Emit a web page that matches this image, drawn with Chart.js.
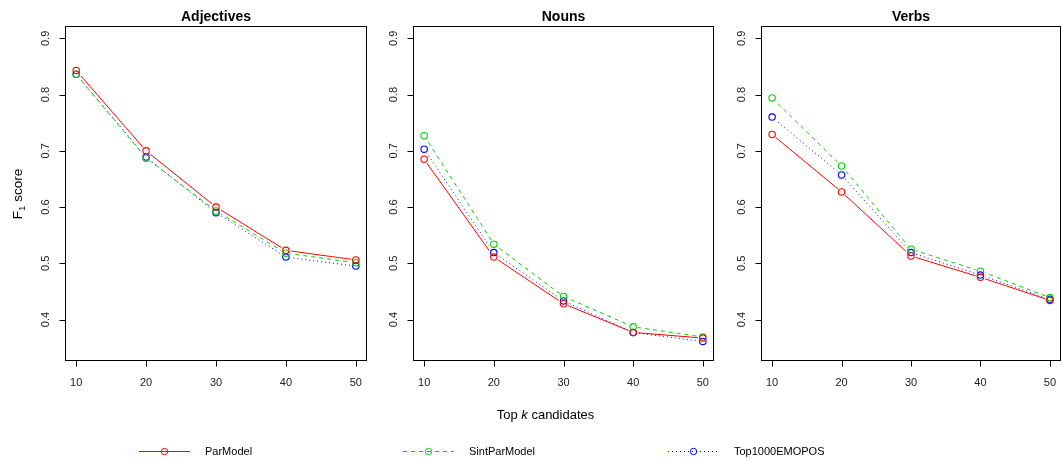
<!DOCTYPE html>
<html>
<head>
<meta charset="utf-8">
<script src="https://cdn.jsdelivr.net/npm/chart.js@4/dist/chart.umd.min.js"></script>
<style>
  html, body { margin: 0; padding: 0; background: #fff; }
  #wrap { position: relative; width: 1062px; height: 462px; overflow: hidden; }
  canvas { position: absolute; left: 0; top: 0; }
</style>
</head>
<body>
<div id="wrap">
  <canvas id="c1" width="1062" height="462"></canvas>
  <canvas id="c2" width="1062" height="462"></canvas>
  <canvas id="c3" width="1062" height="462"></canvas>
</div>
<script>
// ---- data ----
const kValues = [10, 20, 30, 40, 50];
const xTicks = [10, 20, 30, 40, 50];
const yTicks = [0.4, 0.5, 0.6, 0.7, 0.8, 0.9];
const seriesNames = ['ParModel', 'SintParModel', 'Top1000EMOPOS'];
const panelTitles = ['Adjectives', 'Nouns', 'Verbs'];

const adjParModel     = [0.843, 0.700, 0.600, 0.523, 0.506];
const adjSintParModel = [0.836, 0.687, 0.593, 0.518, 0.501];
const adjTop1000      = [0.836, 0.689, 0.590, 0.511, 0.495];

const nounParModel     = [0.685, 0.511, 0.428, 0.377, 0.367];
const nounSintParModel = [0.727, 0.534, 0.441, 0.387, 0.369];
const nounTop1000      = [0.703, 0.519, 0.433, 0.377, 0.361];

const verbParModel     = [0.729, 0.627, 0.513, 0.475, 0.434];
const verbSintParModel = [0.794, 0.673, 0.525, 0.486, 0.439];
const verbTop1000      = [0.760, 0.657, 0.519, 0.479, 0.436];

const xLabel = ['Top ', 'k', ' candidates'];
const yLabel = ['F', '1', ' score'];

// ---- styles ----
const FONT = '"Liberation Sans", Arial, Helvetica, sans-serif';
const seriesColors = ['#ff0000', '#00d200', '#0000ff'];
const seriesDash = [[], [4, 4], [1, 3]];

function toPoints(vals) { return vals.map((v, i) => ({ x: kValues[i], y: v })); }

function makeDatasets(arrs) {
  const lines = arrs.map((vals, i) => ({
    label: seriesNames[i],
    data: toPoints(vals),
    order: 2,
    borderColor: seriesColors[i],
    borderWidth: 1,
    borderDash: seriesDash[i],
    pointRadius: 0,
    fill: false,
    tension: 0
  }));
  // white gaps around each point (like R's type = "b")
  const gaps = arrs.map((vals, i) => ({
    label: seriesNames[i] + ' gap',
    data: toPoints(vals),
    order: 1,
    showLine: false,
    pointStyle: 'circle',
    pointRadius: 5,
    pointBorderWidth: 0,
    pointBackgroundColor: '#ffffff',
    pointBorderColor: '#ffffff'
  }));
  const circles = arrs.map((vals, i) => ({
    label: seriesNames[i] + ' points',
    data: toPoints(vals),
    order: 0,
    showLine: false,
    pointStyle: 'circle',
    pointRadius: 3.2,
    pointBorderWidth: 1.1,
    pointBorderColor: seriesColors[i],
    pointBackgroundColor: 'rgba(0,0,0,0)'
  }));
  return lines.concat(gaps, circles);
}

const boxPlugin = {
  id: 'panelBox',
  afterDraw(chart, args, opts) {
    const { ctx, chartArea: a } = chart;
    ctx.save();
    ctx.strokeStyle = '#000';
    ctx.lineWidth = 1;
    const l = Math.round(a.left) + 0.5, t = Math.round(a.top) + 0.5;
    const r = Math.round(a.right) - 0.5, b = Math.round(a.bottom) + 0.5;
    ctx.strokeRect(l, t, r - l, b - t);
    // tick marks through the library scales
    const xs = chart.scales.x, ys = chart.scales.y;
    ctx.beginPath();
    xs.ticks.forEach(tk => {
      const px = Math.round(xs.getPixelForValue(tk.value)) + 0.5;
      ctx.moveTo(px, b); ctx.lineTo(px, b + 6);
    });
    ys.ticks.forEach(tk => {
      const py = Math.round(ys.getPixelForValue(tk.value)) + 0.5;
      ctx.moveTo(l, py); ctx.lineTo(l - 6, py);
    });
    ctx.stroke();
    // panel title
    ctx.fillStyle = '#000';
    ctx.font = 'bold 14px ' + FONT;
    ctx.textAlign = 'center';
    ctx.textBaseline = 'middle';
    ctx.fillText(opts.title, (a.left + a.right) / 2, 17);
    ctx.restore();
  }
};

const sharedPlugin = {
  id: 'sharedText',
  afterDraw(chart, args, opts) {
    if (!opts.enabled) return;
    const ctx = chart.ctx;
    ctx.save();
    ctx.fillStyle = '#000';
    ctx.textBaseline = 'middle';
    // y axis title, rotated
    ctx.save();
    ctx.translate(18, 194);
    ctx.rotate(-Math.PI / 2);
    ctx.font = '13.5px ' + FONT;
    const w0 = ctx.measureText(yLabel[0]).width;
    ctx.font = '9.5px ' + FONT;
    const w1 = ctx.measureText(yLabel[1]).width;
    ctx.font = '13.5px ' + FONT;
    const w2 = ctx.measureText(yLabel[2]).width;
    let x = -(w0 + w1 + w2) / 2;
    ctx.textAlign = 'left';
    ctx.fillText(yLabel[0], x, 0); x += w0;
    ctx.font = '9.5px ' + FONT;
    ctx.fillText(yLabel[1], x, 4); x += w1;
    ctx.font = '13.5px ' + FONT;
    ctx.fillText(yLabel[2], x, 0);
    ctx.restore();

    // x axis title with italic k
    ctx.font = '13px ' + FONT;
    const a0 = ctx.measureText(xLabel[0]).width;
    ctx.font = 'italic 13px ' + FONT;
    const a1 = ctx.measureText(xLabel[1]).width;
    ctx.font = '13px ' + FONT;
    const a2 = ctx.measureText(xLabel[2]).width;
    let xx = 545.5 - (a0 + a1 + a2) / 2;
    ctx.textAlign = 'left';
    ctx.fillText(xLabel[0], xx, 415); xx += a0;
    ctx.font = 'italic 13px ' + FONT;
    ctx.fillText(xLabel[1], xx, 415); xx += a1;
    ctx.font = '13px ' + FONT;
    ctx.fillText(xLabel[2], xx, 415);

    // legend
    const legX = [139, 403, 668];
    const ly = 451.5;
    ctx.font = '11px ' + FONT;
    seriesNames.forEach((name, i) => {
      const x0 = legX[i];
      ctx.strokeStyle = seriesColors[i];
      ctx.lineWidth = 1;
      ctx.setLineDash(seriesDash[i]);
      ctx.beginPath();
      ctx.moveTo(x0, ly); ctx.lineTo(x0 + 51, ly);
      ctx.stroke();
      ctx.setLineDash([]);
      ctx.beginPath();
      ctx.arc(x0 + 25.5, ly, 3.2, 0, Math.PI * 2);
      ctx.stroke();
      ctx.fillStyle = '#000';
      ctx.fillText(name, x0 + 66, ly);
    });
    ctx.restore();
  }
};

function makePanel(id, padLeft, padRight, title, arrs, shared) {
  return new Chart(document.getElementById(id), {
    type: 'line',
    data: { datasets: makeDatasets(arrs) },
    options: {
      responsive: false,
      animation: false,
      devicePixelRatio: 1,
      layout: { autoPadding: false, padding: { left: padLeft, right: padRight, top: 26, bottom: 62 } },
      plugins: {
        legend: { display: false },
        tooltip: { enabled: false },
        panelBox: { title: title },
        sharedText: { enabled: shared }
      },
      scales: {
        x: {
          type: 'linear',
          min: 8.4, max: 51.6,
          afterBuildTicks: s => { s.ticks = xTicks.map(v => ({ value: v })); },
          afterFit: s => { s.height = 40; s.paddingLeft = 0; s.paddingRight = 0; },
          border: { display: false },
          grid: { display: false, drawTicks: true, tickLength: 8 },
          ticks: {
            color: '#222', padding: 8, maxRotation: 0, autoSkip: false,
            font: { family: FONT, size: 11 },
            callback: v => String(v)
          }
        },
        y: {
          type: 'linear',
          min: 0.328, max: 0.922,
          afterBuildTicks: s => { s.ticks = yTicks.map(v => ({ value: v })); },
          afterFit: s => { s.width = 65; s.paddingTop = 0; s.paddingBottom = 0; },
          border: { display: false },
          grid: { display: false, drawTicks: false },
          ticks: {
            color: '#222', padding: 11, minRotation: 90, maxRotation: 90,
            crossAlign: 'center', autoSkip: false,
            font: { family: FONT, size: 11 },
            callback: v => v.toFixed(1)
          }
        }
      }
    },
    plugins: [boxPlugin, sharedPlugin]
  });
}

makePanel('c1', 0, 695, panelTitles[0], [adjParModel, adjSintParModel, adjTop1000], true);
makePanel('c2', 348, 348, panelTitles[1], [nounParModel, nounSintParModel, nounTop1000], false);
makePanel('c3', 696, 1, panelTitles[2], [verbParModel, verbSintParModel, verbTop1000], false);
</script>
</body>
</html>
